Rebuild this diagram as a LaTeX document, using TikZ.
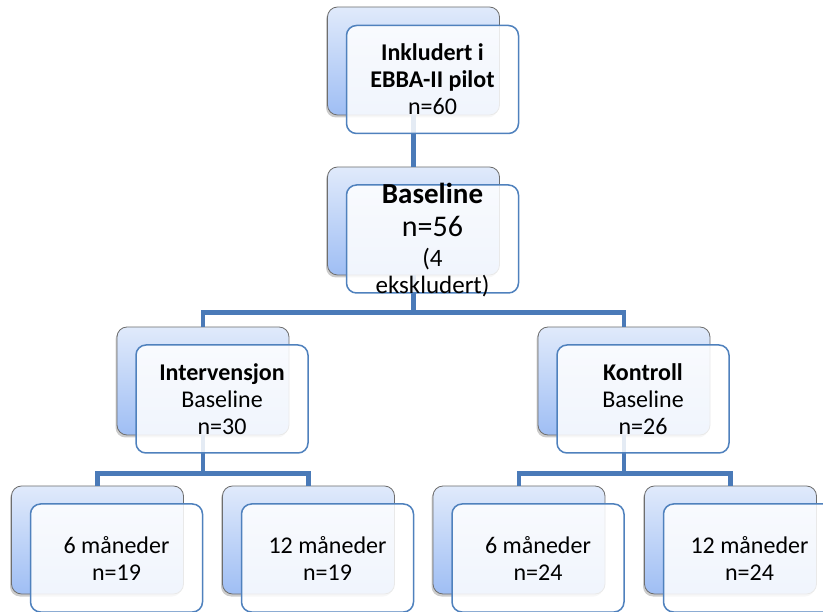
\documentclass[tikz,border=0pt]{standalone}
\usepackage{fontspec}
\setmainfont{Carlito}
\usetikzlibrary{shadows}
\definecolor{linkc}{HTML}{4A7AB8}
\definecolor{frontline}{HTML}{4F81BD}
\definecolor{backtop}{HTML}{E0EAFB}
\definecolor{backbot}{HTML}{9FBEF4}
\definecolor{backline}{HTML}{6E6E6E}
\begin{document}
\begin{tikzpicture}[x=1pt,y=-1pt,
  backbox/.style={draw=backline, line width=0.8pt, rounded corners=10pt,
    minimum width=172pt, minimum height=108pt, top color=backtop, bottom color=backbot,
    drop shadow={shadow xshift=-1.5pt, shadow yshift=-2.5pt, opacity=0.4}},
  frontbox/.style={draw=frontline, line width=1.5pt, rounded corners=10pt,
    minimum width=172pt, minimum height=108pt, fill=white, fill opacity=0.85,
    text opacity=1, align=center, font=\fontsize{24}{27}\selectfont},
  link/.style={draw=linkc, line width=4.5pt}]
\useasboundingbox (0,0) rectangle (823,612);
% back boxes
\node[backbox] (bTop)  at (413.5,61) {};
\node[backbox] (bBase) at (413.5,221) {};
\node[backbox] (bInt)  at (203,381) {};
\node[backbox] (bKon)  at (624,381) {};
\node[backbox] (bI6)   at (97.5,540) {};
\node[backbox] (bI12)  at (308.5,540) {};
\node[backbox] (bK6)   at (519,540) {};
\node[backbox] (bK12)  at (730.5,540) {};
% connectors
\draw[link] (bTop.south) -- (bBase.north);
\draw[link] (bBase.south) |- ([yshift=14pt]bInt.north) -- (bInt.north);
\draw[link] (bBase.south) |- ([yshift=14pt]bKon.north) -- (bKon.north);
\draw[link] (bInt.south) |- ([yshift=12pt]bI6.north) -- (bI6.north);
\draw[link] (bInt.south) |- ([yshift=12pt]bI12.north) -- (bI12.north);
\draw[link] (bKon.south) |- ([yshift=12pt]bK6.north) -- (bK6.north);
\draw[link] (bKon.south) |- ([yshift=12pt]bK12.north) -- (bK12.north);
% front boxes
\node[frontbox] (fTop) at (432.5,79.5) {\textbf{Inkludert i}\\\textbf{EBBA-II pilot}\\n=60};
\node[frontbox, label={[align=center, text opacity=1, fill opacity=1, font=\fontsize{25}{27}\selectfont, yshift=-1pt]center:{{\fontsize{29}{34}\selectfont\bfseries Baseline}\\[6pt]{\fontsize{30}{31}\selectfont n=56}\\[3pt](4\\ekskludert)}}] (fBase) at (432.5,239) {};
\node[frontbox] (fInt) at (222,399) {\textbf{Intervensjon}\\Baseline\\n=30};
\node[frontbox] (fKon) at (643,399) {\textbf{Kontroll}\\Baseline\\n=26};
\node[frontbox] (fI6)  at (116.5,558) {6 måneder\\n=19};
\node[frontbox] (fI12) at (327.5,558) {12 måneder\\n=19};
\node[frontbox] (fK6)  at (538,558) {6 måneder\\n=24};
\node[frontbox] (fK12) at (749.5,558) {12 måneder\\n=24};
\end{tikzpicture}
\end{document}
